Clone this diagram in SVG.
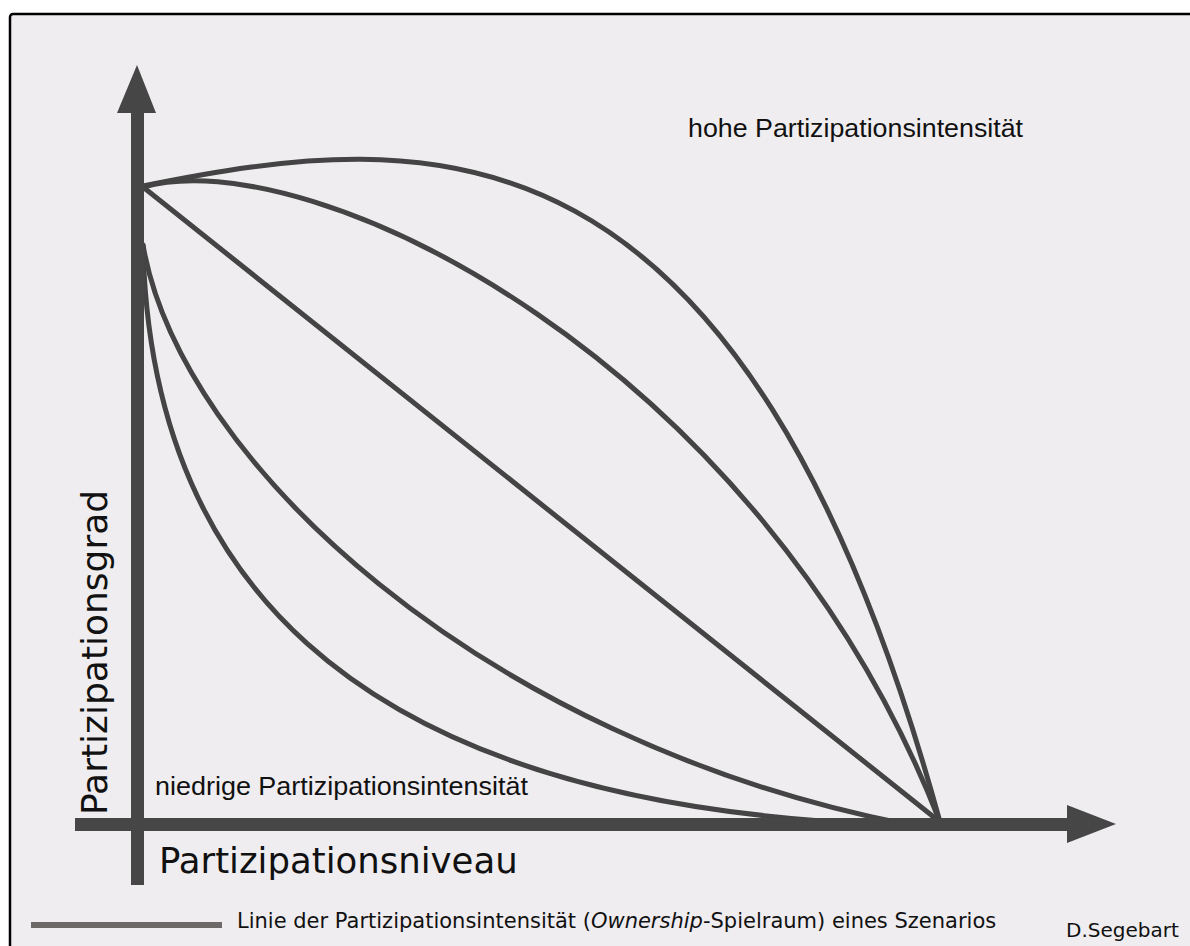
<svg xmlns="http://www.w3.org/2000/svg" width="1190" height="946" viewBox="0 0 1190 946">
<style>
.curve{fill:none;stroke:#444444;stroke-width:5;stroke-linecap:round}
.axis{fill:none;stroke:#464646;stroke-width:13}
.head{fill:#464646}
.arial{font-family:"Liberation Sans",Arial,sans-serif;fill:#111}
.dv{font-family:"DejaVu Sans",Verdana,sans-serif;fill:#111}
</style>
<rect x="0" y="0" width="1190" height="946" fill="#ffffff"/>
<rect id="frame" x="10" y="14" width="1200" height="960" rx="3" fill="#efedf0" stroke="#000" stroke-width="2.5"/>
<g id="connectors">
  <path id="curve1" class="curve" d="M143,186 C430,128 742,99 940,822"/>
  <path id="curve2" class="curve" d="M143,187 C310,140 760,360 940,822"/>
  <path id="diagonal" class="curve" d="M143,187 L940,822"/>
  <path id="curve4" class="curve" d="M143,245 C180,460 480,740 905,824"/>
  <path id="curve5" class="curve" d="M143,245 C150,560 330,800 875,824"/>
</g>
<g id="y-axis">
  <line class="axis" x1="137.5" y1="110" x2="137.5" y2="885"/>
  <polygon class="head" points="137,65 156,113 117,113"/>
</g>
<g id="x-axis">
  <line class="axis" x1="75" y1="824.5" x2="1070" y2="824.5"/>
  <polygon class="head" points="1116,824 1067,805 1067,843"/>
</g>
<g id="label-high"><text class="arial" x="688" y="137" font-size="26" textLength="335" lengthAdjust="spacingAndGlyphs">hohe Partizipationsintensität</text></g>
<g id="label-low"><text class="arial" x="155" y="795" font-size="26" textLength="373" lengthAdjust="spacingAndGlyphs">niedrige Partizipationsintensität</text></g>
<g id="label-x"><text class="dv" x="159" y="873" font-size="35.5">Partizipationsniveau</text></g>
<g id="label-y"><text class="dv" font-size="36" transform="translate(107,815) rotate(-90)">Partizipationsgrad</text></g>
<g id="legend">
  <line x1="31" y1="925" x2="222" y2="925" stroke="#6e6969" stroke-width="6"/>
  <text class="dv" x="237" y="928" font-size="21">Linie der Partizipationsintensität (<tspan font-style="italic">Ownership</tspan>-Spielraum) eines Szenarios</text>
</g>
<g id="author"><text class="dv" x="1066" y="937" font-size="20">D.Segebart</text></g>
</svg>
